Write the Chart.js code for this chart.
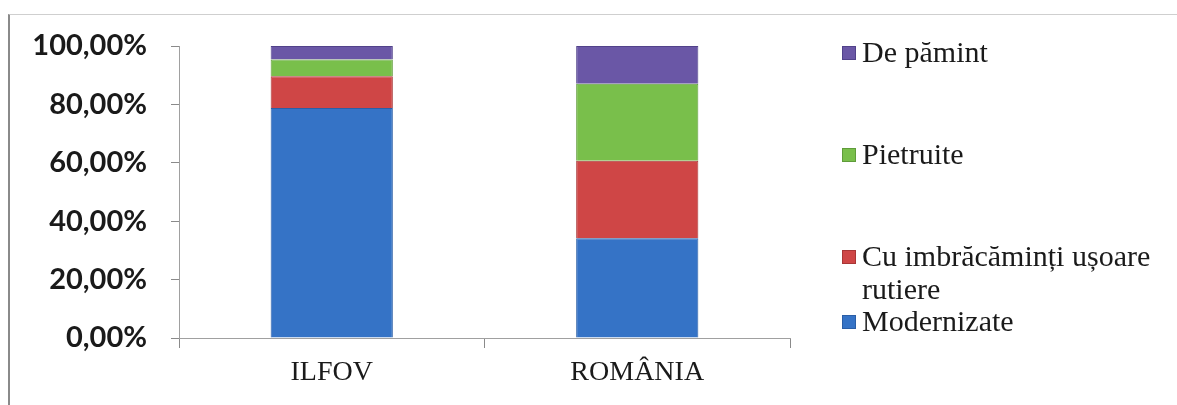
<!DOCTYPE html>
<html>
<head>
<meta charset="utf-8">
<script src="https://cdn.jsdelivr.net/npm/chart.js@4"></script>
<style>
    body { margin: 0; background: #fff; }
    #wrap { position: relative; width: 1177px; height: 405px; overflow: hidden; }
    #frame { position: absolute; left: 8px; top: 14px; width: 1200px; height: 420px;
             border-left: 2px solid #8a8a8a; border-top: 1px solid #cfcfcf; }
    #box { position: absolute; left: 0; top: 0; width: 1177px; height: 405px; }
</style>
</head>
<body>
<div id="wrap">
    <div id="frame"></div>
    <div id="box"><canvas id="chart"></canvas></div>
</div>
<script>
// categories and series (percent of total road length)
const categories = ['ILFOV', 'ROMÂNIA'];
const seriesNames = ['Modernizate', 'Cu imbrăcăminți ușoare rutiere', 'Pietruite', 'De pămint'];
const modernizate = [78.8, 34.2];
const usoare = [10.8, 26.5];
const pietruite = [5.8, 26.4];
const dePamint = [4.6, 12.9];
const yTicks = [0, 20, 40, 60, 80, 100];

const colors = ['#3573c6', '#cf4646', '#79bf4b', '#6a57a6'];
const borders = ['#2a5ea6', '#a83636', '#5f9c3a', '#51428a'];
const values = [modernizate, usoare, pietruite, dePamint];

// legend layout (first-line centre of each entry, top entry first)
const legendX = 842;
const legendY = [53, 155, 257, 322];
const legendFont = '30px "Liberation Serif", "Times New Roman", serif';

// draws the legend on the right, wrapping long names
const sideLegend = {
    id: 'sideLegend',
    afterDraw(chart) {
        const c = chart.ctx;
        const ds = chart.data.datasets;
        c.save();
        c.font = legendFont;
        c.textBaseline = 'middle';
        c.textAlign = 'left';
        ds.slice().reverse().forEach((d, k) => {
            const y = legendY[k];
            c.fillStyle = d.backgroundColor;
            c.strokeStyle = d.borderColor;
            c.lineWidth = 1;
            c.fillRect(legendX, y - 7, 14, 14);
            c.strokeRect(legendX + 0.5, y - 6.5, 13, 13);
            // wrap text to fit the right side
            const maxW = 1177 - (legendX + 20) - 4;
            const words = d.label.split(' ');
            const lines = [];
            let line = '';
            words.forEach(w => {
                const t = line ? line + ' ' + w : w;
                if (c.measureText(t).width > maxW && line) { lines.push(line); line = w; }
                else line = t;
            });
            lines.push(line);
            c.fillStyle = '#1a1a1a';
            lines.forEach((l, j) => c.fillText(l, legendX + 20, y + 1 + j * 33));
        });
        c.restore();
    }
};

const ctx = document.getElementById('chart').getContext('2d');

new Chart(ctx, {
    type: 'bar',
    data: {
        labels: categories,
        datasets: seriesNames.map((name, i) => ({
            label: name,
            data: values[i],
            backgroundColor: colors[i],
            borderColor: borders[i],
            borderWidth: 1,
            barPercentage: 0.8,
            categoryPercentage: 0.5
        }))
    },
    options: {
        responsive: true,
        maintainAspectRatio: false,
        animation: false,
        layout: { padding: { top: 46, right: 387, left: 0, bottom: 0 } },
        scales: {
            x: {
                stacked: true,
                offset: true,
                border: { display: true, color: '#a0a0a0', width: 1 },
                grid: { offset: true, drawOnChartArea: false, drawTicks: true, tickLength: 10, color: '#8a8a8a' },
                ticks: {
                    color: '#1a1a1a',
                    padding: 8,
                    font: { family: '"Liberation Serif", serif', size: 28 }
                },
                afterFit: s => { s.height = 67; }
            },
            y: {
                stacked: true,
                min: 0,
                max: 100,
                afterBuildTicks: s => { s.ticks = yTicks.map(v => ({ value: v })); },
                border: { display: true, color: '#a0a0a0', width: 1 },
                grid: { drawOnChartArea: false, drawTicks: true, tickLength: 8, color: '#8a8a8a' },
                ticks: {
                    color: '#1a1a1a',
                    padding: 24,
                    font: { family: 'Lato, sans-serif', size: 29, weight: 'bold' },
                    callback: v => v.toFixed(2).replace('.', ',') + '%'
                },
                afterFit: s => { s.width = 179; }
            }
        },
        plugins: {
            legend: { display: false },
            tooltip: { enabled: false }
        }
    },
    plugins: [sideLegend]
});
</script>
</body>
</html>
